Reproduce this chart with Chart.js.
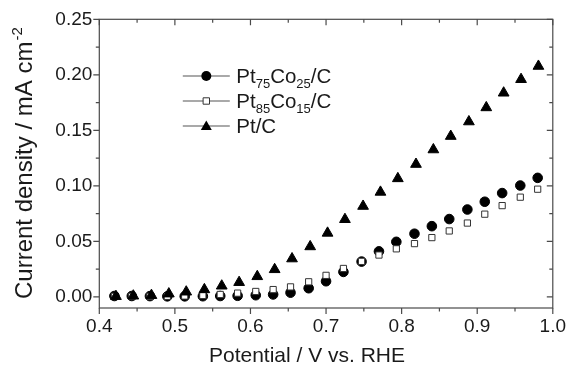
<!DOCTYPE html>
<html>
<head>
<meta charset="utf-8">
<script src="https://cdn.jsdelivr.net/npm/chart.js@4.4.0/dist/chart.umd.min.js"></script>
<style>
  html, body { margin: 0; padding: 0; background: #fff; }
  #wrap { width: 573px; height: 366px; }
</style>
</head>
<body>
<div id="wrap"><canvas id="orrChart"></canvas></div>
<script>
// potential, V vs. RHE
const potential = [0.420, 0.443, 0.467, 0.490, 0.513, 0.537, 0.560, 0.583, 0.607, 0.630, 0.653, 0.677, 0.700,
  0.723, 0.747, 0.770, 0.793, 0.817, 0.840, 0.863, 0.887, 0.910, 0.933, 0.957, 0.980];
const potentialPtC = [0.422, 0.445, 0.469, 0.492, 0.515, 0.539, 0.562, 0.585, 0.609, 0.632, 0.655, 0.679, 0.702,
  0.725, 0.749, 0.772, 0.795, 0.819, 0.842, 0.865, 0.889, 0.912, 0.935, 0.958, 0.981];

// current density, mA cm-2
const ptCo7525 = [0.0008, 0.0008, 0.0007, 0.0005, 0.0005, 0.0006, 0.0008, 0.0010, 0.0015, 0.0022, 0.0038, 0.0078, 0.0141,
  0.0225, 0.0318, 0.0410, 0.0496, 0.0569, 0.0637, 0.0701, 0.0787, 0.0857, 0.0935, 0.1003, 0.1072];
const ptCo8515 = [0.0005, 0.0005, 0.0005, 0.0005, 0.0008, 0.0013, 0.0022, 0.0034, 0.0049, 0.0066, 0.0090, 0.0136, 0.0194,
  0.0256, 0.0320, 0.0377, 0.0433, 0.0480, 0.0534, 0.0594, 0.0665, 0.0745, 0.0822, 0.0898, 0.0970];
const ptC = [0.0005, 0.0009, 0.0014, 0.0028, 0.0045, 0.0066, 0.0099, 0.0131, 0.0184, 0.0247, 0.0344, 0.0453, 0.0575,
  0.0698, 0.0817, 0.0944, 0.1066, 0.1195, 0.1326, 0.1447, 0.1578, 0.1705, 0.1837, 0.1959, 0.2078];

const xTicks = [0.4, 0.5, 0.6, 0.7, 0.8, 0.9, 1.0];
const xMinor = [0.45, 0.55, 0.65, 0.75, 0.85, 0.95];
const yTicks = [0, 0.05, 0.10, 0.15, 0.20, 0.25];
const yMinor = [0.025, 0.075, 0.125, 0.175, 0.225];

// legend text as runs, second item marks a subscript
const seriesLabels = [
  [['Pt'], ['75', 1], ['Co'], ['25', 1], ['/C']],
  [['Pt'], ['85', 1], ['Co'], ['15', 1], ['/C']],
  [['Pt/C']]
];

const FONT = "'Liberation Sans', Arial, Helvetica, sans-serif";
const AXIS = '#4a4a4a';
const INK = '#1a1a1a';

function toPoints(xs, ys) {
  return xs.map((x, i) => ({ x: x, y: ys[i] }));
}

// box around the plot with ticks out on bottom/left and in on top/right
const frame = {
  id: 'frame',
  afterDatasetsDraw(chart) {
    const { ctx, chartArea: a, scales: { x, y } } = chart;
    ctx.save();
    ctx.strokeStyle = AXIS;
    ctx.lineWidth = 1.2;
    ctx.strokeRect(a.left, a.top, a.right - a.left, a.bottom - a.top);
    ctx.beginPath();
    const xt = (v, len) => {
      const px = x.getPixelForValue(v);
      ctx.moveTo(px, a.bottom); ctx.lineTo(px, a.bottom + len);
      ctx.moveTo(px, a.top); ctx.lineTo(px, a.top + len);
    };
    const yt = (v, len) => {
      const py = y.getPixelForValue(v);
      ctx.moveTo(a.left, py); ctx.lineTo(a.left - len, py);
      ctx.moveTo(a.right, py); ctx.lineTo(a.right - len, py);
    };
    xTicks.forEach(v => xt(v, 6));
    xMinor.forEach(v => xt(v, 3.5));
    yTicks.forEach(v => yt(v, 6));
    yMinor.forEach(v => yt(v, 3.5));
    ctx.stroke();
    ctx.restore();
  }
};

function marker(ctx, style, cx, cy) {
  ctx.beginPath();
  if (style === 'circle') {
    ctx.arc(cx, cy, 5, 0, Math.PI * 2);
    ctx.fillStyle = '#000';
    ctx.fill();
  } else if (style === 'rect') {
    ctx.rect(cx - 3.2, cy - 3.2, 6.4, 6.4);
    ctx.fillStyle = '#fff';
    ctx.fill();
    ctx.strokeStyle = '#333';
    ctx.lineWidth = 1;
    ctx.stroke();
  } else {
    ctx.moveTo(cx, cy - 5.5);
    ctx.lineTo(cx + 5.5, cy + 4);
    ctx.lineTo(cx - 5.5, cy + 4);
    ctx.closePath();
    ctx.fillStyle = '#000';
    ctx.fill();
  }
}

// legend with subscripted alloy names
const alloyLegend = {
  id: 'alloyLegend',
  afterDraw(chart) {
    const { ctx, chartArea: a } = chart;
    const x0 = a.left + 83.5;
    const y0 = a.top + 56.7;
    ctx.save();
    chart.data.datasets.forEach((ds, i) => {
      const cy = y0 + i * 25;
      ctx.strokeStyle = '#555';
      ctx.lineWidth = 1.2;
      ctx.beginPath();
      ctx.moveTo(x0, cy);
      ctx.lineTo(x0 + 47, cy);
      ctx.stroke();
      marker(ctx, ds.pointStyle, x0 + 23.5, cy);
      let tx = x0 + 53.5;
      ctx.fillStyle = INK;
      ctx.textBaseline = 'alphabetic';
      seriesLabels[i].forEach(([txt, sub]) => {
        ctx.font = (sub ? 13 : 20.5) + 'px ' + FONT;
        ctx.fillText(txt, tx, cy + (sub ? 12 : 6.5));
        tx += ctx.measureText(txt).width;
      });
    });
    ctx.restore();
  }
};

// axis titles; the y one carries the cm-2 superscript
const axisTitles = {
  id: 'axisTitles',
  afterDraw(chart) {
    const { ctx, chartArea: a } = chart;
    ctx.save();
    ctx.fillStyle = INK;

    ctx.font = '21px ' + FONT;
    ctx.textAlign = 'center';
    ctx.textBaseline = 'alphabetic';
    ctx.fillText('Potential / V vs. RHE', 307, 362);

    const main = 'Current density / mA cm';
    const sup = '-2';
    ctx.translate(25, (a.top + a.bottom) / 2);
    ctx.rotate(-Math.PI / 2);
    ctx.textAlign = 'left';
    ctx.textBaseline = 'middle';
    ctx.font = '24px ' + FONT;
    const w1 = ctx.measureText(main).width;
    ctx.font = '15px ' + FONT;
    const w2 = ctx.measureText(sup).width;
    const start = -(w1 + w2) / 2;
    ctx.font = '24px ' + FONT;
    ctx.fillText(main, start, 0);
    ctx.font = '15px ' + FONT;
    ctx.fillText(sup, start + w1 + 1, -7);
    ctx.restore();
  }
};

window.addEventListener('load', function () {
  Chart.defaults.font.family = FONT;
  Chart.defaults.color = INK;

  const ctx = document.getElementById('orrChart').getContext('2d');
  window.orrChart = new Chart(ctx, {
    type: 'scatter',
    data: {
      datasets: [
        {
          label: 'Pt75Co25/C',
          data: toPoints(potential, ptCo7525),
          pointStyle: 'circle',
          pointRadius: 4.8,
          backgroundColor: '#000',
          borderColor: '#000',
          borderWidth: 1,
          order: 3
        },
        {
          label: 'Pt85Co15/C',
          data: toPoints(potential, ptCo8515),
          pointStyle: 'rect',
          pointRadius: 4.4,
          backgroundColor: '#fff',
          borderColor: '#333',
          borderWidth: 1,
          order: 2
        },
        {
          label: 'Pt/C',
          data: toPoints(potentialPtC, ptC),
          pointStyle: 'triangle',
          pointRadius: 6.2,
          backgroundColor: '#000',
          borderColor: '#000',
          borderWidth: 1,
          order: 1
        }
      ]
    },
    options: {
      responsive: true,
      maintainAspectRatio: false,
      animation: false,
      events: [],
      layout: { padding: { left: 0, right: 15.5, top: 19.3, bottom: 0 } },
      plugins: {
        legend: { display: false },
        tooltip: { enabled: false }
      },
      scales: {
        x: {
          type: 'linear',
          min: 0.4,
          max: 1.0,
          afterBuildTicks: s => { s.ticks = xTicks.map(v => ({ value: v })); },
          afterFit: s => { s.height = 58; },
          grid: { display: false, drawTicks: false },
          border: { display: false },
          ticks: {
            padding: 7,
            font: { size: 19 },
            color: INK,
            callback: v => v.toFixed(1)
          }
        },
        y: {
          type: 'linear',
          min: -0.01,
          max: 0.25,
          afterBuildTicks: s => { s.ticks = yTicks.map(v => ({ value: v })); },
          afterFit: s => { s.width = 99.3; },
          grid: { display: false, drawTicks: false },
          border: { display: false },
          ticks: {
            padding: 7,
            font: { size: 19 },
            color: INK,
            callback: v => v.toFixed(2)
          }
        }
      }
    },
    plugins: [frame, alloyLegend, axisTitles]
  });
});
</script>
</body>
</html>
